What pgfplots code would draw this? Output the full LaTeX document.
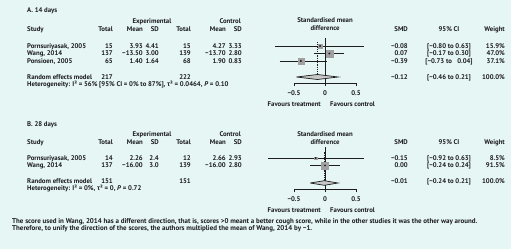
\documentclass[border=0pt]{standalone}
\usepackage{fontspec}
\setmainfont{PT Sans}
\newfontfamily\gk{Liberation Sans}
\usepackage{pgfplots}
\pgfplotsset{compat=1.18}
\definecolor{bg}{RGB}{229,246,245}
\definecolor{txt}{RGB}{30,28,29}
\definecolor{sq}{RGB}{160,160,160}
\definecolor{dia}{RGB}{200,200,200}
\newcommand\fs{\bfseries\fontsize{6.8}{7}\selectfont}
\newcommand\ff{\bfseries\fontsize{7}{7}\selectfont}
\newcommand\T[4]{\node[anchor=#3] at (#1,{249-#2}) {#4};}
\pgfplotsset{forest/.style={
  scale only axis, width=62bp, xmin=-0.5, xmax=0.5, clip=false,
  axis x line*=bottom, axis y line=none,
  x axis line style={-, line width=0.8bp, txt},
  xtick={-0.5,0,0.5}, xticklabels={−0.5,0,0.5},
  tick align=outside, major tick length=3bp,
  tick style={line width=0.8bp, txt},
  xticklabel style={font=\fs, text=txt, inner sep=0pt, yshift=-4bp},
}}
\begin{document}
\begin{tikzpicture}[x=1bp,y=1bp]
\fill[bg] (0,0) rectangle (511,249);
\begin{scope}[every node/.style={inner sep=0pt, text=txt, font=\fs}]
% ---------- Panel A ----------
\T{27}{10}{mid west}{A. 14 days}
\T{152}{21}{mid}{Experimental}
\T{241}{21}{mid east}{Control}
\T{325}{20.5}{mid}{Standardised mean}
\T{325}{28.5}{mid}{difference}
\T{27}{29}{mid west}{Study}
\T{113}{29}{mid east}{Total}
\T{143}{29}{mid east}{Mean}
\T{159}{29}{mid east}{SD}
\T{191}{29}{mid east}{Total}
\T{226}{29}{mid east}{Mean}
\T{242}{29}{mid east}{SD}
\T{408}{29}{mid east}{SMD}
\T{449}{29}{mid}{95\% CI}
\T{505}{29}{mid east}{Weight}
% rows
\T{27}{46}{mid west}{Pornsuriyasak, 2005}
\T{113}{46}{mid east}{15}\T{143}{46}{mid east}{3.93}\T{159}{46}{mid east}{4.41}
\T{191}{46}{mid east}{15}\T{226}{46}{mid east}{4.27}\T{242}{46}{mid east}{3.33}
\T{408}{46}{mid east}{−0.08}\T{449}{46}{mid}{[−0.80 to 0.63]}\T{505}{46}{mid east}{15.9\%}
\T{27}{53.5}{mid west}{Wang, 2014}
\T{113}{53.5}{mid east}{137}\T{143}{53.5}{mid east}{−13.50}\T{159}{53.5}{mid east}{3.00}
\T{191}{53.5}{mid east}{139}\T{226}{53.5}{mid east}{−13.70}\T{242}{53.5}{mid east}{2.80}
\T{408}{53.5}{mid east}{0.07}\T{449}{53.5}{mid}{[−0.17 to 0.30]}\T{505}{53.5}{mid east}{47.0\%}
\T{27}{61}{mid west}{Ponsioen, 2005}
\T{113}{61}{mid east}{65}\T{143}{61}{mid east}{1.40}\T{159}{61}{mid east}{1.64}
\T{191}{61}{mid east}{68}\T{226}{61}{mid east}{1.90}\T{242}{61}{mid east}{0.83}
\T{408}{61}{mid east}{−0.39}\T{449}{61}{mid}{[−0.73 to \hphantom{−}0.04]}\T{505}{61}{mid east}{37.1\%}
\T{27}{77}{mid west}{Random effects model}
\T{113}{77}{mid east}{217}\T{191}{77}{mid east}{222}
\T{408}{77}{mid east}{−0.12}\T{449}{77}{mid}{[−0.46 to 0.21]}\T{505}{77}{mid east}{100.0\%}
\T{27}{84}{mid west}{Heterogeneity: I² = 56\% [95\% CI = 0\% to 87\%], {\gk τ}² = 0.0464, \textit{P} = 0.10}
\T{321}{104}{mid east}{Favours treatment}
\T{330}{104}{mid west}{Favours control}
% ---------- Panel B ----------
\T{27}{124}{mid west}{B. 28 days}
\T{152}{134}{mid}{Experimental}
\T{241}{134}{mid east}{Control}
\T{325}{134}{mid}{Standardised mean}
\T{325}{142}{mid}{difference}
\T{27}{142}{mid west}{Study}
\T{113}{142}{mid east}{Total}
\T{143}{142}{mid east}{Mean}
\T{159}{142}{mid east}{SD}
\T{191}{142}{mid east}{Total}
\T{226}{142}{mid east}{Mean}
\T{242}{142}{mid east}{SD}
\T{408}{142}{mid east}{SMD}
\T{449}{142}{mid}{95\% CI}
\T{505}{142}{mid east}{Weight}
\T{27}{158}{mid west}{Pornsuriyasak, 2005}
\T{113}{158}{mid east}{14}\T{143}{158}{mid east}{2.26}\T{159}{158}{mid east}{2.4}
\T{191}{158}{mid east}{12}\T{226}{158}{mid east}{2.66}\T{242}{158}{mid east}{2.93}
\T{408}{158}{mid east}{−0.15}\T{449}{158}{mid}{[−0.92 to 0.63]}\T{505}{158}{mid east}{8.5\%}
\T{27}{165.5}{mid west}{Wang, 2014}
\T{113}{165.5}{mid east}{137}\T{143}{165.5}{mid east}{−16.00}\T{159}{165.5}{mid east}{3.0}
\T{191}{165.5}{mid east}{139}\T{226}{165.5}{mid east}{−16.00}\T{242}{165.5}{mid east}{2.80}
\T{408}{165.5}{mid east}{0.00}\T{449}{165.5}{mid}{[−0.24 to 0.24]}\T{505}{165.5}{mid east}{91.5\%}
\T{27}{181}{mid west}{Random effects model}
\T{113}{181}{mid east}{151}\T{191}{181}{mid east}{151}
\T{408}{181}{mid east}{−0.01}\T{449}{181}{mid}{[−0.24 to 0.21]}\T{505}{181}{mid east}{100.0\%}
\T{27}{188}{mid west}{Heterogeneity: I² = 0\%, {\gk τ}² = 0, \textit{P} = 0.72}
\T{321}{210}{mid east}{Favours treatment}
\T{330}{210}{mid west}{Favours control}
% footnote
\T{12}{221}{mid west}{\ff The score used in Wang, 2014 has a different direction, that is, scores >0 meant a better cough score, while in the other studies it was the other way around.}
\T{12}{228}{mid west}{\ff Therefore, to unify the direction of the scores, the authors multiplied the mean of Wang, 2014 by −1.}
\end{scope}

% ---------- Plot A ----------
\begin{axis}[forest, at={(294bp,166bp)}, anchor=south west,
  height=45bp, ymin=166, ymax=211]
  % zero line
  \addplot[txt, line width=0.8bp] coordinates {(0,166) (0,211)};
  % confidence intervals
  \addplot[txt, line width=0.8bp] coordinates {(-0.80,203) (0.63,203)};
  \addplot[txt, line width=0.8bp] coordinates {(-0.17,195.5) (0.30,195.5)};
  \addplot[txt, line width=0.8bp] coordinates {(-0.73,188) (0.04,188)};
  % pooled estimate
  \addplot[txt, line width=0.8bp, densely dotted] coordinates {(-0.12,172) (-0.12,207)};
  % squares
  \addplot[only marks, mark=square*, mark size=2bp, sq, mark options={draw=none}] coordinates {(-0.08,203)};
  \addplot[only marks, mark=square*, mark size=3.5bp, sq, mark options={draw=none}] coordinates {(0.07,195.5)};
  \addplot[only marks, mark=square*, mark size=3.1bp, sq, mark options={draw=none}] coordinates {(-0.39,188)};
  \addplot[only marks, mark=*, mark size=0.7bp, txt] coordinates {(-0.08,203) (0.07,195.5) (-0.39,188)};
  % diamond
  \addplot[fill=dia, draw=txt, line width=0.7bp] coordinates {(-0.46,172) (-0.12,174.5) (0.21,172) (-0.12,169.5) (-0.46,172)};
\end{axis}

% ---------- Plot B ----------
\begin{axis}[forest, at={(294bp,60bp)}, anchor=south west,
  height=42bp, ymin=60, ymax=102]
  \addplot[txt, line width=0.8bp] coordinates {(0,60) (0,102)};
  \addplot[txt, line width=0.8bp] coordinates {(-0.92,91) (0.63,91)};
  \addplot[txt, line width=0.8bp] coordinates {(-0.24,83.5) (0.24,83.5)};
  \addplot[txt, line width=0.8bp, densely dotted] coordinates {(-0.01,66) (-0.01,98)};
  \addplot[only marks, mark=square*, mark size=1.1bp, sq, mark options={draw=none}] coordinates {(-0.15,91)};
  \addplot[only marks, mark=square*, mark size=3.4bp, sq, mark options={draw=none}] coordinates {(0.00,83.5)};
  \addplot[only marks, mark=*, mark size=0.7bp, txt] coordinates {(-0.15,91) (0.00,83.5)};
  \addplot[fill=dia, draw=txt, line width=0.7bp] coordinates {(-0.24,66) (-0.01,68.3) (0.21,66) (-0.01,63.7) (-0.24,66)};
\end{axis}
\pgfresetboundingbox
\path (0,0) rectangle (511,249);
\end{tikzpicture}
\end{document}
